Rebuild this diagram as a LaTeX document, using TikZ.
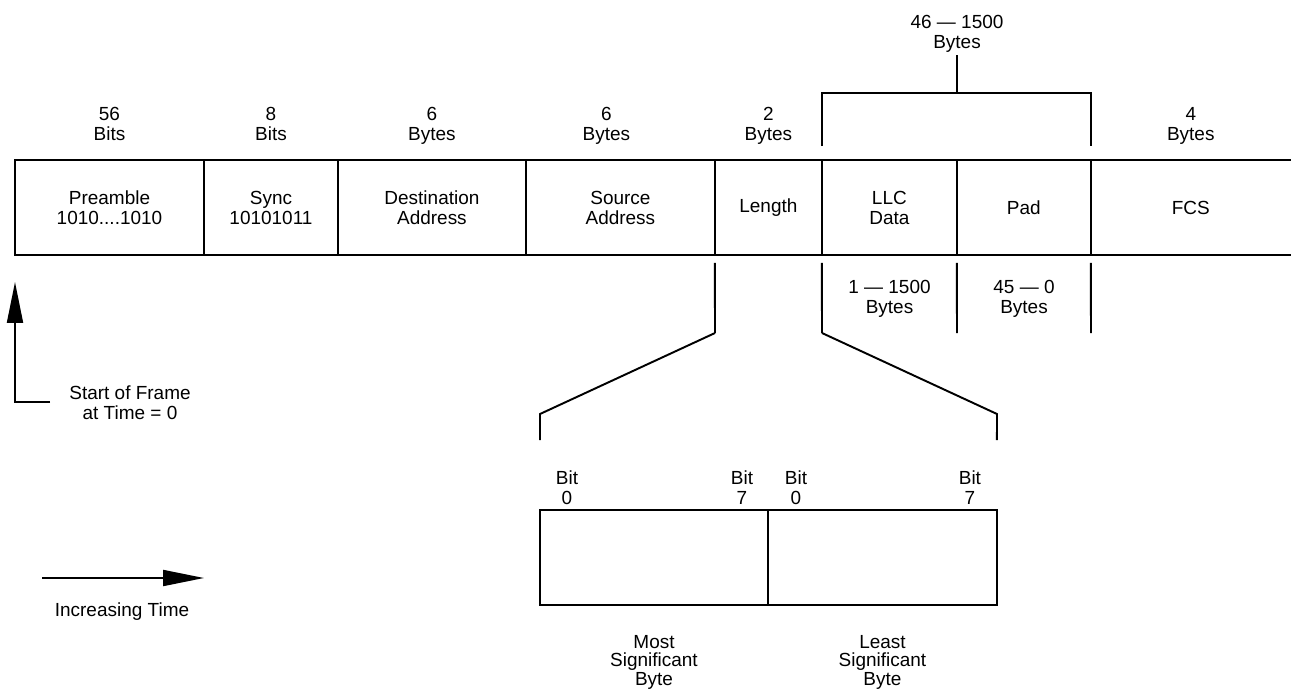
\documentclass[tikz,border=0pt]{standalone}
\usepackage{fontspec}
\setmainfont{Liberation Sans}
\usetikzlibrary{positioning,arrows.meta}

\begin{document}
\begin{tikzpicture}[x=0.02cm, y=-0.02cm, line width=1.1pt,
        font=\fontsize{10.8}{11.4}\selectfont,
        field/.style={draw, rectangle, minimum height=1.9cm, inner sep=0pt, outer sep=0pt, align=center},
        lbl/.style={align=center, inner sep=1pt},
        size/.style={lbl, text depth=0pt},
        bigarrow/.style={-{Triangle[length=0.82cm, width=0.32cm]}}]
        \useasboundingbox (0,0) rectangle (1291,690);

        % the frame
        \node[field, minimum width=3.78cm] (pre) at (109.5,207.5) {Preamble\\1010....1010};
        \node[field, minimum width=2.68cm, right=0pt of pre] (sync) {Sync\\10101011};
        \node[field, minimum width=3.76cm, right=0pt of sync] (dest) {Destination\\Address};
        \node[field, minimum width=3.78cm, right=0pt of dest] (src) {Source\\Address};
        \node[field, minimum width=2.14cm, right=0pt of src] (len) {Length};
        \node[field, minimum width=2.7cm, right=0pt of len] (llc) {LLC\\Data};
        \node[field, minimum width=2.68cm, right=0pt of llc] (pad) {Pad};
        \node[field, draw=none, minimum width=4cm, right=0pt of pad] (fcs) {FCS};
        \draw (pad.north east) -- (fcs.north east);
        \draw (pad.south east) -- (fcs.south east);

        % sizes above
        \node[size, above=0.345cm of pre] (preSize) {56\\Bits};
        \node[size, above=0.345cm of sync] (syncSize) {8\\Bits};
        \node[size, above=0.345cm of dest] (destSize) {6\\Bytes};
        \node[size, above=0.345cm of src, xshift=-0.28cm] (srcSize) {6\\Bytes};
        \node[size, above=0.345cm of len] (lenSize) {2\\Bytes};
        \node[size, above=0.345cm of fcs] (fcsSize) {4\\Bytes};

        % data field bracket
        \coordinate (brL) at (822,146);
        \coordinate (brR) at (1091,146);
        \coordinate (brM) at (957,93);
        \node[lbl] (dataSize) at (957,34) {46 — 1500\\Bytes};
        \draw (brL) |- (brM) -| (brR);
        \draw (brM) -- (dataSize);

        % sizes below
        \coordinate (llcLow) at (822,333);
        \coordinate (padLow) at (957,333);
        \coordinate (fcsLow) at (1091,333);
        \coordinate (lenLow) at (715,333);
        \draw ([yshift=-0.16cm]llc.south west) -- (llcLow);
        \draw ([yshift=-0.16cm]pad.south west) -- (padLow);
        \draw ([yshift=-0.16cm]fcs.south west) -- (fcsLow);
        \draw ([yshift=-0.16cm]len.south west) -- (lenLow);
        \node[lbl] (llcSize) at (889.5,299) {1 — 1500\\Bytes};
        \node[lbl] (padSize) at (1024,299) {45 — 0\\Bytes};

        % length field bytes
        \node[field, minimum width=4.56cm] (msb) at (654,557.5) {};
        \node[field, minimum width=4.58cm, right=0pt of msb] (lsb) {};
        \coordinate (zoomL) at (540,414);
        \coordinate (zoomR) at (997,414);
        \draw (lenLow) -- (zoomL) -- ([yshift=1.4cm]msb.north west);
        \draw (llcLow) -- (zoomR) -- ([yshift=1.4cm]lsb.north east);

        \node[lbl] (msb0) at ([xshift=0.54cm, yshift=0.44cm]msb.north west) {Bit\\0};
        \node[lbl] (msb7) at ([xshift=-0.52cm, yshift=0.44cm]msb.north east) {Bit\\7};
        \node[lbl] (lsb0) at ([xshift=0.56cm, yshift=0.44cm]lsb.north west) {Bit\\0};
        \node[lbl] (lsb7) at ([xshift=-0.54cm, yshift=0.44cm]lsb.north east) {Bit\\7};
        \node[lbl, below=0.55cm of msb, font=\fontsize{10.8}{10.6}\selectfont] (msbName) {Most\\Significant\\Byte};
        \node[lbl, below=0.55cm of lsb, font=\fontsize{10.8}{10.6}\selectfont] (lsbName) {Least\\Significant\\Byte};

        % time
        \node[lbl] (start) at (130,403) {Start of Frame\\at Time = 0};
        \coordinate (startEnd) at (50,402);
        \coordinate (startTip) at (15,282);
        \draw[bigarrow] (startEnd) -| (startTip);

        \coordinate (timeA) at (42,578);
        \coordinate (timeB) at (204,578);
        \draw[bigarrow] (timeA) -- (timeB);
        \node[lbl] (timeName) at (122,612) {Increasing Time};
    \end{tikzpicture}
\end{document}
